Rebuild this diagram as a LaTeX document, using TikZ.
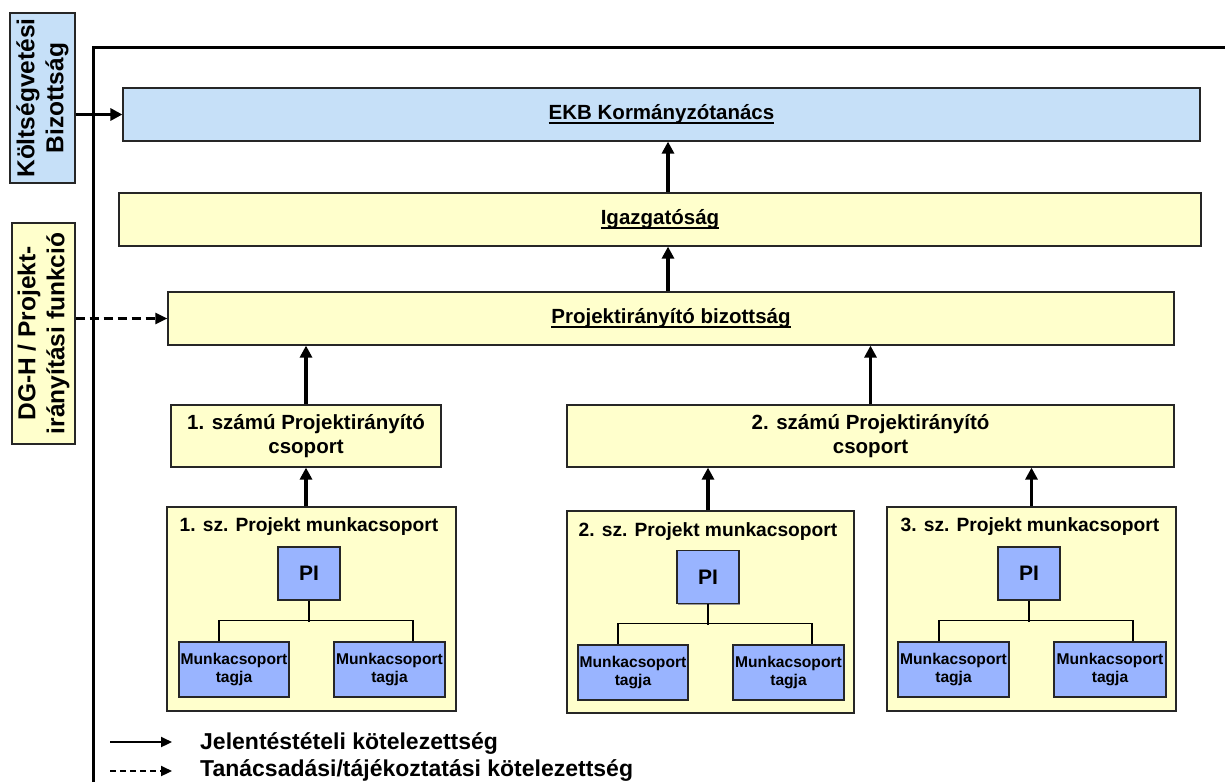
\documentclass[tikz,border=0pt]{standalone}
\usepackage{fontspec}
\setmainfont{Liberation Sans}
\usetikzlibrary{arrows.meta,shadows,calc}
\definecolor{boxyellow}{RGB}{255,255,204}
\definecolor{boxblue}{RGB}{198,224,248}
\definecolor{piblue}{RGB}{153,180,255}
\newsavebox\myulbox
\newcommand{\myul}[1]{\sbox\myulbox{#1}\usebox\myulbox\llap{\rule[-4.5pt]{\wd\myulbox}{1.8pt}}}
\begin{document}
\begin{tikzpicture}[x=1pt,y=-1pt,
  base/.style={draw=black!85, line width=1.2pt, inner sep=0pt, align=center,
    drop shadow={shadow xshift=1.3pt, shadow yshift=-1.3pt, fill=black!40, opacity=1}},
  mainbox/.style={base, fill=boxyellow, font=\bfseries\fontsize{20.5}{24}\selectfont},
  bluebox/.style={base, fill=boxblue, font=\bfseries\fontsize{20.5}{24}\selectfont},
  grpbox/.style={base, fill=boxyellow},
  grptitle/.style={inner sep=0pt, font=\bfseries\fontsize{19.2}{22}\selectfont},
  pibox/.style={base, fill=piblue, minimum width=62pt, minimum height=53pt, font=\bfseries\fontsize{21}{24}\selectfont},
  membox/.style={base, fill=piblue, minimum height=55pt, font=\bfseries\fontsize{15.6}{18}\selectfont},
  side/.style={base, rotate=90, font=\bfseries\fontsize{24.5}{29}\selectfont},
  arr/.style={line width=3.3pt, -{Triangle[length=12pt,width=12pt]}},
  darr/.style={line width=2.2pt, dash pattern=on 9pt off 5pt, -{Triangle[length=12pt,width=11pt]}},
  bus/.style={line width=1.4pt},
  legtext/.style={anchor=base west, inner sep=0pt, font=\bfseries\fontsize{23}{26}\selectfont},
  legsolid/.style={line width=2.2pt, -{Triangle[length=11pt,width=10pt]}},
  legdash/.style={line width=2.2pt, dash pattern=on 6pt off 4pt, -{Triangle[length=11pt,width=10pt]}}
]
\useasboundingbox (0,0) rectangle (1225,782);
\fill[white] (0,0) rectangle (1225,782);

% frame
\draw[line width=3pt] (93,782) -- (93,47) -- (1225,47);

% side boxes
\node[side, fill=boxblue, minimum width=170pt, minimum height=65pt] (kolt) at (42.5,98) {Költségvetési\\Bizottság};
\node[side, fill=boxyellow, minimum width=221pt, minimum height=63pt] (dg) at (43.5,333.5) {DG-H / Projekt-\\irányítási funkció};

% main hierarchy
\node[bluebox, minimum width=1077pt, minimum height=53pt] (ekb) at (661.5,114.5) {\myul{EKB Kormányzótanács}};
\node[mainbox, minimum width=1082pt, minimum height=53pt] (igaz) at (660,219.5) {\myul{Igazgatóság}};
\node[mainbox, minimum width=1006pt, minimum height=53pt] (biz) at (671,318.5) {\myul{Projektirányító bizottság}};
\node[mainbox, minimum width=270pt, minimum height=62pt] (cs1) at (306,436) {1. számú Projektirányító\\csoport};
\node[mainbox, minimum width=607pt, minimum height=62pt] (cs2) at (870.5,436) {2. számú Projektirányító\\csoport};

% project groups
\node[grpbox, minimum width=289pt, minimum height=204pt] (mc1) at (311.5,609) {};
\node[grpbox, minimum width=287pt, minimum height=202pt] (mc2) at (710.5,612) {};
\node[grpbox, minimum width=289pt, minimum height=204pt] (mc3) at (1031.5,609) {};
\node[grptitle] (t1) at (309,527) {1. sz. Projekt munkacsoport};
\node[grptitle] (t2) at (708,532) {2. sz. Projekt munkacsoport};
\node[grptitle] (t3) at (1030,527) {3. sz. Projekt munkacsoport};

\node[pibox] (pi1) at (309,573.5) {PI};
\node[pibox] (pi2) at (708,577) {PI};
\node[pibox] (pi3) at (1029,573.5) {PI};

\node[membox, minimum width=110pt] (m1a) at (234,669.5) {Munkacsoport\\tagja};
\node[membox, minimum width=111pt] (m1b) at (389.5,669.5) {Munkacsoport\\tagja};
\node[membox, minimum width=110pt] (m2a) at (633,672.5) {Munkacsoport\\tagja};
\node[membox, minimum width=111pt] (m2b) at (788.5,672.5) {Munkacsoport\\tagja};
\node[membox, minimum width=111pt] (m3a) at (953.5,669.5) {Munkacsoport\\tagja};
\node[membox, minimum width=112pt] (m3b) at (1110,669.5) {Munkacsoport\\tagja};

% buses
\draw[bus] (pi1.south) -- ++(0,21);
\draw[bus] ([xshift=-15pt]m1a.north) -- ++(0,-21) -| ([xshift=23.5pt]m1b.north);
\draw[bus] (pi2.south) -- ++(0,21);
\draw[bus] ([xshift=-15pt]m2a.north) -- ++(0,-21) -| ([xshift=23.5pt]m2b.north);
\draw[bus] (pi3.south) -- ++(0,21);
\draw[bus] ([xshift=-14.5pt]m3a.north) -- ++(0,-21) -| ([xshift=23pt]m3b.north);

% reporting arrows
\draw[arr] (kolt.south |- ekb.west) -- (ekb.west);
\draw[darr] (dg.south |- biz.west) -- (biz.west);
\draw[arr] ([xshift=-3pt]biz.north) -- ([xshift=-3pt]biz.north |- igaz.south);
\draw[arr] ([xshift=-3pt]biz.north |- igaz.north) -- ([xshift=-3pt]biz.north |- ekb.south);
\draw[arr] (cs1.north) -- (cs1.north |- biz.south);
\draw[arr] (cs2.north) -- (cs2.north |- biz.south);
\draw[arr] (cs1.south |- mc1.north) -- (cs1.south);
\draw[arr] (pi2.north |- mc2.north) -- (pi2.north |- cs2.south);
\draw[arr] (mc3.north) -- (mc3.north |- cs2.south);

% legend
\coordinate (l1s) at (110,742);
\coordinate (l1e) at (172,742);
\coordinate (l2s) at (110,771);
\coordinate (l2e) at (172,771);
\draw[legsolid] (l1s) -- (l1e);
\draw[legdash] (l2s) -- (l2e);
\node[legtext] (lt1) at (200,749) {Jelentéstételi kötelezettség};
\node[legtext] (lt2) at (200,776) {Tanácsadási/tájékoztatási kötelezettség};
\end{tikzpicture}
\end{document}
